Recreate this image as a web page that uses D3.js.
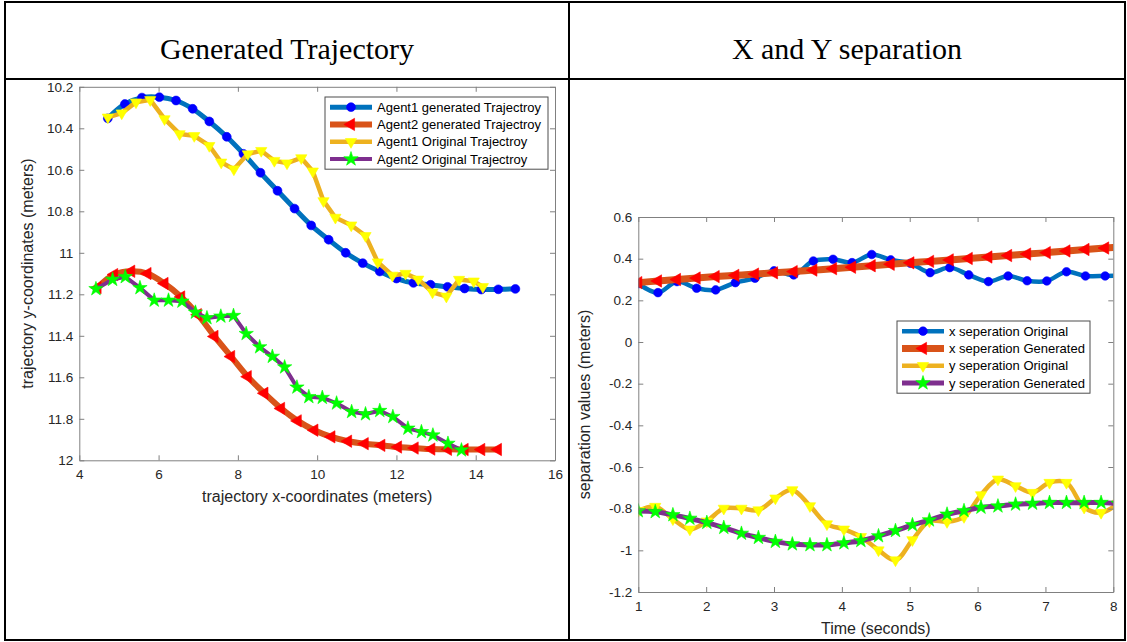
<!DOCTYPE html>
<html>
<head>
<meta charset="utf-8">
<script src="https://cdn.jsdelivr.net/npm/d3@7"></script>
<style>
  body { margin: 0; background: #fff; }
  svg { display: block; }
</style>
</head>
<body>
<svg id="fig" width="1127" height="642"></svg>
<script>
// ---------- Trajectory data (meters) ----------
const agent1GenX = [4.72, 5.15, 5.58, 6.02, 6.44, 6.86, 7.28, 7.72, 8.14, 8.57, 9.00, 9.43, 9.85, 10.29, 10.72, 11.15, 11.58, 12.00, 12.43, 12.86, 13.29, 13.72, 14.14, 14.57, 15.00];
const agent1GenY = [10.352, 10.283, 10.252, 10.250, 10.266, 10.306, 10.367, 10.441, 10.523, 10.614, 10.701, 10.787, 10.868, 10.937, 11.000, 11.050, 11.090, 11.124, 11.145, 11.154, 11.164, 11.172, 11.177, 11.176, 11.174];

const agent2GenX = [4.46, 4.88, 5.31, 5.72, 6.15, 6.57, 6.99, 7.41, 7.83, 8.25, 8.67, 9.09, 9.51, 9.93, 10.36, 10.78, 11.20, 11.62, 12.04, 12.46, 12.88, 13.30, 13.72, 14.14, 14.56];
const agent2GenY = [11.168, 11.105, 11.089, 11.100, 11.148, 11.213, 11.298, 11.403, 11.500, 11.597, 11.677, 11.750, 11.810, 11.855, 11.887, 11.908, 11.920, 11.928, 11.936, 11.941, 11.946, 11.947, 11.948, 11.948, 11.948];

const agent1OrigX = [4.72, 5.07, 5.43, 5.79, 6.15, 6.53, 6.90, 7.28, 7.58, 7.90, 8.25, 8.59, 8.92, 9.24, 9.60, 9.89, 10.16, 10.46, 10.86, 11.22, 11.53, 11.90, 12.23, 12.55, 12.91, 13.26, 13.58, 13.95, 14.18];
const agent1OrigY = [10.347, 10.327, 10.274, 10.263, 10.355, 10.427, 10.436, 10.484, 10.564, 10.597, 10.524, 10.508, 10.556, 10.568, 10.543, 10.607, 10.750, 10.830, 10.867, 10.918, 11.045, 11.109, 11.100, 11.128, 11.190, 11.210, 11.129, 11.137, 11.164];

const agent2OrigX = [4.42, 4.84, 5.16, 5.53, 5.89, 6.25, 6.59, 6.93, 7.22, 7.57, 7.89, 8.21, 8.55, 8.87, 9.18, 9.49, 9.79, 10.13, 10.49, 10.87, 11.22, 11.58, 11.91, 12.29, 12.63, 12.92, 13.30, 13.64];
const agent2OrigY = [11.174, 11.129, 11.116, 11.169, 11.229, 11.229, 11.234, 11.287, 11.314, 11.306, 11.303, 11.390, 11.454, 11.500, 11.551, 11.648, 11.694, 11.698, 11.725, 11.766, 11.777, 11.761, 11.790, 11.846, 11.863, 11.879, 11.919, 11.951];

const trajXTicks = [4, 6, 8, 10, 12, 14, 16];
const trajYTicks = [10.2, 10.4, 10.6, 10.8, 11, 11.2, 11.4, 11.6, 11.8, 12];

// ---------- Separation data ----------
const xSepTime = [1.00, 1.29, 1.57, 1.86, 2.14, 2.43, 2.72, 3.00, 3.29, 3.58, 3.87, 4.15, 4.44, 4.72, 5.01, 5.30, 5.59, 5.87, 6.16, 6.45, 6.73, 7.02, 7.31, 7.59, 7.88, 8.17];
const xSepOriginal = [0.280, 0.237, 0.290, 0.258, 0.250, 0.285, 0.306, 0.342, 0.322, 0.389, 0.397, 0.381, 0.420, 0.394, 0.378, 0.333, 0.357, 0.322, 0.290, 0.317, 0.294, 0.293, 0.337, 0.317, 0.317, 0.320];
const xSepGenerated = [0.285, 0.293, 0.300, 0.307, 0.314, 0.320, 0.326, 0.332, 0.338, 0.345, 0.352, 0.359, 0.366, 0.373, 0.380, 0.387, 0.394, 0.401, 0.408, 0.415, 0.422, 0.429, 0.437, 0.444, 0.451, 0.458];

const ySepTime = [1.00, 1.25, 1.51, 1.76, 2.01, 2.26, 2.52, 2.77, 3.02, 3.27, 3.53, 3.78, 4.03, 4.28, 4.54, 4.79, 5.04, 5.29, 5.55, 5.80, 6.05, 6.30, 6.56, 6.81, 7.06, 7.31, 7.57, 7.82, 8.07];
const ySepOriginal = [-0.810, -0.790, -0.850, -0.899, -0.860, -0.799, -0.799, -0.807, -0.750, -0.710, -0.787, -0.874, -0.899, -0.935, -0.999, -1.047, -0.950, -0.860, -0.863, -0.839, -0.734, -0.659, -0.691, -0.723, -0.675, -0.675, -0.794, -0.819, -0.775];
const ySepGenerated = [-0.811, -0.815, -0.830, -0.847, -0.867, -0.891, -0.919, -0.939, -0.958, -0.970, -0.974, -0.974, -0.965, -0.954, -0.931, -0.906, -0.878, -0.855, -0.827, -0.810, -0.794, -0.788, -0.779, -0.775, -0.771, -0.771, -0.771, -0.771, -0.775];

const sepXTicks = [1, 2, 3, 4, 5, 6, 7, 8];
const sepYTicks = [-1.2, -1, -0.8, -0.6, -0.4, -0.2, 0, 0.2, 0.4, 0.6];

// ---------- Styles ----------
const C = {
  blueLine: "#0072BD", redLine: "#D95319", yellowLine: "#EDB120", purpleLine: "#7E2F8E",
  blueMk: "#0000FF", redMk: "#FF0000", yellowMk: "#FFFF00", greenMk: "#00FF00",
  axis: "#262626"
};
const SANS = "'Liberation Sans', Arial, Helvetica, sans-serif";
const SERIF = "'Liberation Serif', 'Times New Roman', serif";

const svg = d3.select("#fig");

// ---------- Table frame ----------
const frame = svg.append("g").attr("stroke", "#000").attr("stroke-width", 2).attr("fill", "none");
frame.append("rect").attr("x", 5).attr("y", 2).attr("width", 1120).attr("height", 638);
frame.append("line").attr("x1", 5).attr("x2", 1125).attr("y1", 79).attr("y2", 79);
frame.append("line").attr("x1", 569).attr("x2", 569).attr("y1", 2).attr("y2", 640);

svg.append("text").attr("x", 287).attr("y", 59).attr("text-anchor", "middle")
  .style("font-family", SERIF).style("font-size", "30px").attr("fill", "#000")
  .text("Generated Trajectory");
svg.append("text").attr("x", 847).attr("y", 59).attr("text-anchor", "middle")
  .style("font-family", SERIF).style("font-size", "30px").attr("fill", "#000")
  .text("X and Y separation");

// ---------- Helpers ----------
const fmt = d => String(d);

function drawAxes(g, x, y, xTicks, yTicks, xLabel, yLabel, yLabelX) {
  const [x0, x1] = x.range();
  const [yb, yt] = y.range();
  const tick = 5;
  const styleAxis = sel => {
    sel.select(".domain").attr("stroke", "#808080").attr("stroke-width", 1);
    sel.selectAll(".tick line").attr("stroke", "#808080");
    sel.selectAll(".tick text").attr("fill", C.axis)
      .style("font-family", SANS).style("font-size", "13.5px");
  };
  g.append("g").attr("transform", `translate(0,${yb})`)
    .call(d3.axisBottom(x).tickValues(xTicks).tickFormat(fmt).tickSizeInner(-tick).tickSizeOuter(0).tickPadding(9))
    .call(styleAxis);
  g.append("g").attr("transform", `translate(0,${yt})`)
    .call(d3.axisTop(x).tickValues(xTicks).tickFormat("").tickSizeInner(-tick).tickSizeOuter(0))
    .call(styleAxis);
  g.append("g").attr("transform", `translate(${x0},0)`)
    .call(d3.axisLeft(y).tickValues(yTicks).tickFormat(fmt).tickSizeInner(-tick).tickSizeOuter(0).tickPadding(6))
    .call(styleAxis);
  g.append("g").attr("transform", `translate(${x1},0)`)
    .call(d3.axisRight(y).tickValues(yTicks).tickFormat("").tickSizeInner(-tick).tickSizeOuter(0))
    .call(styleAxis);

  g.append("text").attr("x", (x0 + x1) / 2).attr("y", yb + 42).attr("text-anchor", "middle")
    .style("font-family", SANS).style("font-size", "16px").attr("fill", C.axis).text(xLabel);
  g.append("text").attr("transform", `translate(${yLabelX},${(yb + yt) / 2}) rotate(-90)`)
    .attr("text-anchor", "middle")
    .style("font-family", SANS).style("font-size", "16px").attr("fill", C.axis).text(yLabel);
}

function drawSeries(g, x, y, xs, ys, s) {
  const pts = xs.map((v, i) => [x(v), y(ys[i])]);
  g.append("path")
    .attr("d", d3.line().curve(s.curve)(pts))
    .attr("fill", "none").attr("stroke", s.line).attr("stroke-width", s.width)
    .attr("stroke-linejoin", "round").attr("stroke-linecap", "butt");
  const sym = d3.symbol().type(s.symbol).size(s.size);
  g.append("g").selectAll("path").data(pts).join("path")
    .attr("transform", d => `translate(${d[0]},${d[1]}) rotate(${s.rotate || 0})`)
    .attr("d", sym).attr("fill", s.mk).attr("stroke", s.mk).attr("stroke-width", 0.6);
}

function drawLegend(g, x, y, w, rowH, entries) {
  g.append("rect").attr("x", x).attr("y", y).attr("width", w).attr("height", rowH * entries.length + 3)
    .attr("fill", "#fff").attr("stroke", "#4d4d4d").attr("stroke-width", 1);
  entries.forEach((e, i) => {
    const cy = y + rowH * (i + 0.5) + 1.5;
    g.append("line").attr("x1", x + 5).attr("x2", x + 47).attr("y1", cy).attr("y2", cy)
      .attr("stroke", e.line).attr("stroke-width", e.width);
    g.append("path").attr("transform", `translate(${x + 26},${cy}) rotate(${e.rotate || 0})`)
      .attr("d", d3.symbol().type(e.symbol).size(e.size)).attr("fill", e.mk).attr("stroke", e.mk).attr("stroke-width", 0.6);
    g.append("text").attr("x", x + 52).attr("y", cy).attr("dy", "0.35em")
      .style("font-family", SANS).style("font-size", "13px").attr("fill", "#000").text(e.label);
  });
}

// ---------- Left panel: trajectories ----------
{
  const x = d3.scaleLinear().domain([4, 16]).range([79.3, 555]);
  const y = d3.scaleLinear().domain([12, 10.2]).range([460.3, 86.8]);
  const g = svg.append("g");
  g.append("defs").append("clipPath").attr("id", "clipL").append("rect")
    .attr("x", 79.3).attr("y", 86.8).attr("width", 555 - 79.3).attr("height", 460.3 - 86.8);
  const plot = g.append("g").attr("clip-path", "url(#clipL)");

  const S = {
    a1g: { line: C.blueLine, width: 5, mk: C.blueMk, symbol: d3.symbolCircle, size: 62, curve: d3.curveCatmullRom },
    a2g: { line: C.redLine, width: 6, mk: C.redMk, symbol: d3.symbolTriangle, size: 66, rotate: -90, curve: d3.curveCatmullRom },
    a1o: { line: C.yellowLine, width: 4.5, mk: C.yellowMk, symbol: d3.symbolTriangle, size: 55, rotate: 180, curve: d3.curveLinear },
    a2o: { line: C.purpleLine, width: 4, mk: C.greenMk, symbol: d3.symbolStar, size: 64, curve: d3.curveLinear }
  };
  drawSeries(plot, x, y, agent1GenX, agent1GenY, S.a1g);
  drawSeries(plot, x, y, agent2GenX, agent2GenY, S.a2g);
  drawSeries(plot, x, y, agent1OrigX, agent1OrigY, S.a1o);
  drawSeries(plot, x, y, agent2OrigX, agent2OrigY, S.a2o);

  drawAxes(g, x, y, trajXTicks, trajYTicks,
    "trajectory x-coordinates (meters)", "trajectory y-coordinates (meters)", 33);

  drawLegend(g, 325, 97, 223, 17.3, [
    Object.assign({ label: "Agent1 generated Trajectroy" }, S.a1g),
    Object.assign({ label: "Agent2 generated Trajectroy" }, S.a2g),
    Object.assign({ label: "Agent1 Original Trajectroy" }, S.a1o),
    Object.assign({ label: "Agent2 Original Trajectroy" }, S.a2o)
  ]);
}

// ---------- Right panel: separations ----------
{
  const x = d3.scaleLinear().domain([1, 8]).range([638.3, 1113.3]);
  const y = d3.scaleLinear().domain([-1.2, 0.6]).range([592, 217]);
  const g = svg.append("g");
  g.append("defs").append("clipPath").attr("id", "clipR").append("rect")
    .attr("x", 638.3).attr("y", 217).attr("width", 1113.3 - 638.3).attr("height", 592 - 217);
  const plot = g.append("g").attr("clip-path", "url(#clipR)");

  const S = {
    xo: { line: C.blueLine, width: 4.5, mk: C.blueMk, symbol: d3.symbolCircle, size: 58, curve: d3.curveCatmullRom },
    xg: { line: C.redLine, width: 7, mk: C.redMk, symbol: d3.symbolTriangle, size: 66, rotate: -90, curve: d3.curveCatmullRom },
    yo: { line: C.yellowLine, width: 4.5, mk: C.yellowMk, symbol: d3.symbolTriangle, size: 55, rotate: 180, curve: d3.curveCatmullRom },
    yg: { line: C.purpleLine, width: 5, mk: C.greenMk, symbol: d3.symbolStar, size: 64, curve: d3.curveCatmullRom }
  };
  drawSeries(plot, x, y, xSepTime, xSepOriginal, S.xo);
  drawSeries(plot, x, y, xSepTime, xSepGenerated, S.xg);
  drawSeries(plot, x, y, ySepTime, ySepOriginal, S.yo);
  drawSeries(plot, x, y, ySepTime, ySepGenerated, S.yg);

  drawAxes(g, x, y, sepXTicks, sepYTicks,
    "Time (seconds)", "separation values (meters)", 590);

  drawLegend(g, 897, 321, 193, 17.3, [
    Object.assign({ label: "x seperation Original" }, S.xo),
    Object.assign({ label: "x seperation Generated" }, S.xg),
    Object.assign({ label: "y seperation Original" }, S.yo),
    Object.assign({ label: "y seperation Generated" }, S.yg)
  ]);
}
</script>
</body>
</html>
